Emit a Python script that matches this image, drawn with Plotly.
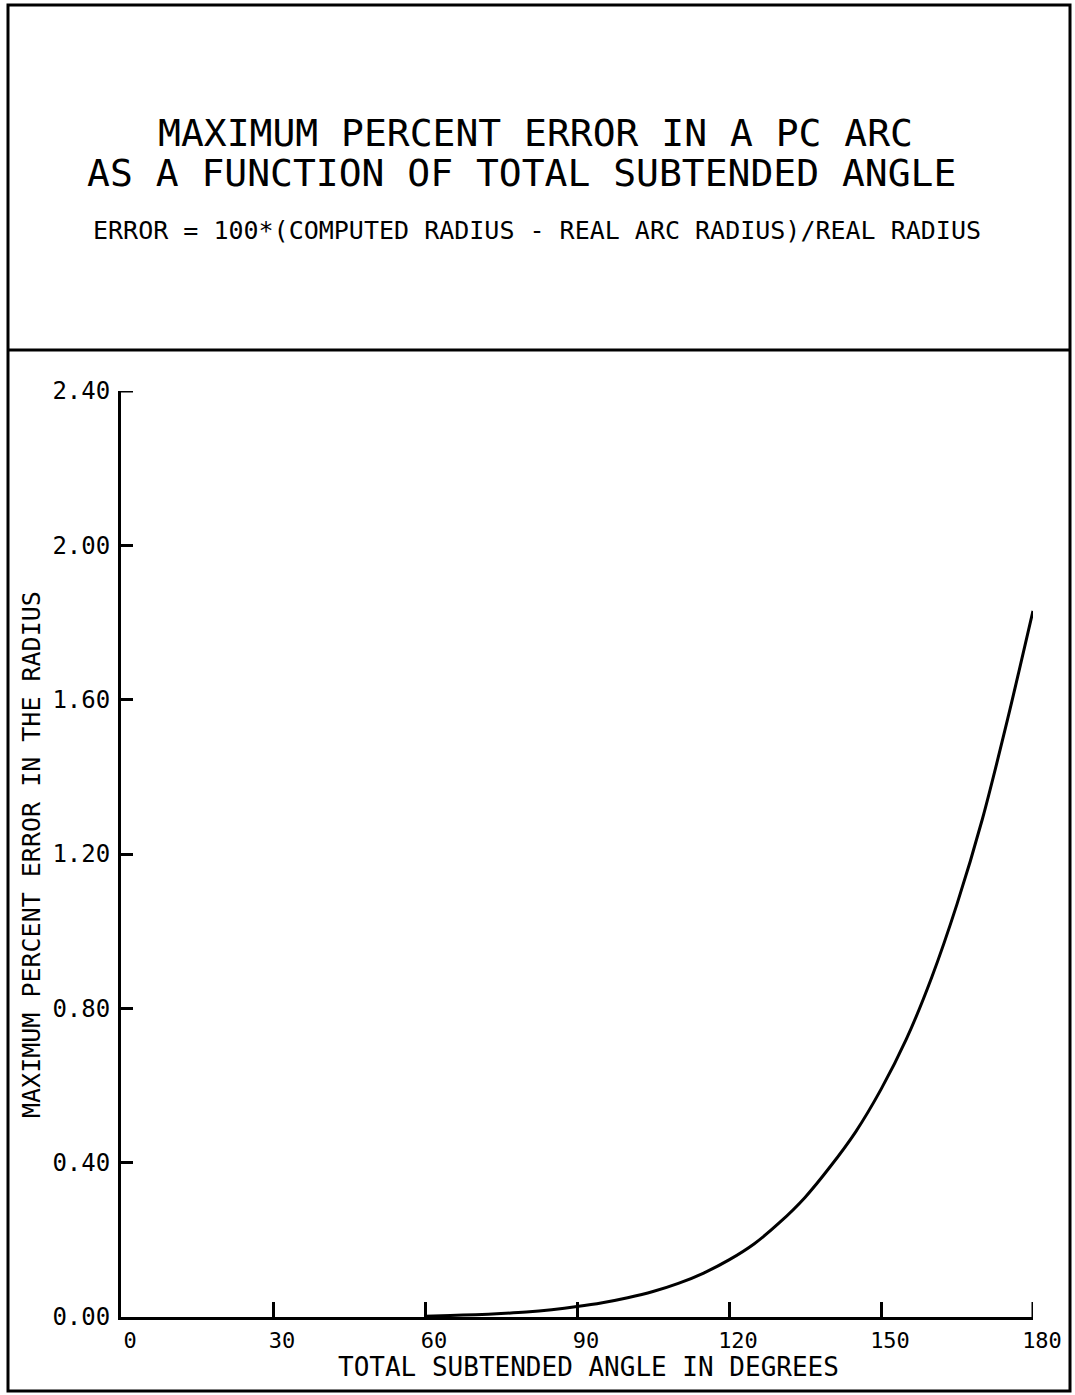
import plotly.graph_objects as go

# ---- data ----
angle_deg = [60, 65, 70, 75, 80, 85, 90, 95, 100, 105, 110, 115, 120, 125,
             130, 135, 140, 145, 150, 155, 160, 165, 170, 175, 180]
max_pct_error = [0.002, 0.004, 0.006, 0.009, 0.013, 0.019, 0.027, 0.037, 0.050,
                 0.066, 0.087, 0.114, 0.148, 0.19, 0.245, 0.31, 0.39, 0.48, 0.59,
                 0.72, 0.88, 1.07, 1.29, 1.55, 1.83]

x_tickvals = [0, 30, 60, 90, 120, 150, 180]
x_ticktext = ["0", "30", "60", "90", "120", "150", "180"]
y_tickvals = [0.0, 0.4, 0.8, 1.2, 1.6, 2.0, 2.4]
y_ticktext = ["0.00", "0.40", "0.80", "1.20", "1.60", "2.00", "2.40"]

title_1 = "MAXIMUM PERCENT ERROR IN A PC ARC"
title_2 = "AS A FUNCTION OF TOTAL SUBTENDED ANGLE"
title_3 = "ERROR = 100*(COMPUTED RADIUS - REAL ARC RADIUS)/REAL RADIUS"
x_title = "TOTAL SUBTENDED ANGLE IN DEGREES"
y_title = "MAXIMUM PERCENT ERROR IN THE RADIUS"

# ---- layout geometry (pixels) ----
W, H = 1075, 1395
L, R, T, B = 121, 42, 391, 78
PW, PH = W - L - R, H - T - B
FONT = "DejaVu Sans Mono"
X_TICKLEN, Y_TICKLEN, TICKW = 15, 12, 3


def px(x):
    return (x - L) / PW


def py(y):
    return (H - B - y) / PH


fig = go.Figure()
fig.add_trace(go.Scatter(x=angle_deg, y=max_pct_error, mode="lines",
                         line=dict(color="black", width=3, shape="spline",
                                   smoothing=0.8),
                         showlegend=False, hoverinfo="skip"))

fig.update_layout(
    width=W, height=H,
    margin=dict(l=L, r=R, t=T, b=B, autoexpand=False),
    paper_bgcolor="white", plot_bgcolor="white",
    font=dict(family=FONT, color="black"),
    xaxis=dict(range=[0, 180], tickvals=x_tickvals, ticktext=x_ticktext,
               showgrid=False, zeroline=False, showline=True, linecolor="black",
               linewidth=3, ticks="inside", ticklen=X_TICKLEN, tickwidth=TICKW,
               tickcolor="black", tickfont=dict(family=FONT, size=22),
               ticklabelshift=9, ticklabelstandoff=2),
    yaxis=dict(range=[0, 2.4], tickvals=y_tickvals, ticktext=y_ticktext,
               showgrid=False, zeroline=False, showline=True, linecolor="black",
               linewidth=3, ticks="inside", ticklen=Y_TICKLEN, tickwidth=TICKW,
               tickcolor="black", tickfont=dict(family=FONT, size=24),
               ticklabelstandoff=3),
)

# end ticks that plotly drops at the exact range limits
fig.add_shape(type="line", xref="x", yref="y", xsizemode="pixel",
              xanchor=x_tickvals[0], x0=0, x1=Y_TICKLEN,
              y0=y_tickvals[-1], y1=y_tickvals[-1],
              line=dict(color="black", width=TICKW))
fig.add_shape(type="line", xref="x", yref="y", ysizemode="pixel",
              yanchor=y_tickvals[0], y0=0, y1=X_TICKLEN,
              x0=x_tickvals[-1], x1=x_tickvals[-1],
              line=dict(color="black", width=TICKW))

# outer frame and separator
fig.add_shape(type="rect", xref="paper", yref="paper",
              x0=px(8), x1=px(1070), y0=py(1391), y1=py(5),
              line=dict(color="black", width=3))
fig.add_shape(type="line", xref="paper", yref="paper",
              x0=px(8), x1=px(1070), y0=py(350), y1=py(350),
              line=dict(color="black", width=3))

ann = [
    (title_1, 535, 133, 38, 0),
    (title_2, 521, 173, 38, 0),
    (title_3, 537, 230, 25, 0),
    (x_title, 588, 1367, 26, 0),
    (y_title, 31, 855, 25, -90),
]
for text, x, y, size, ang in ann:
    fig.add_annotation(text=text, xref="paper", yref="paper", x=px(x), y=py(y),
                       xanchor="center", yanchor="middle", showarrow=False,
                       textangle=ang, font=dict(family=FONT, size=size, color="black"))

fig.write_html("out.html", config={"displayModeBar": False},
               post_script="document.body.style.margin='0px';"
                           "document.body.style.padding='0px';")
